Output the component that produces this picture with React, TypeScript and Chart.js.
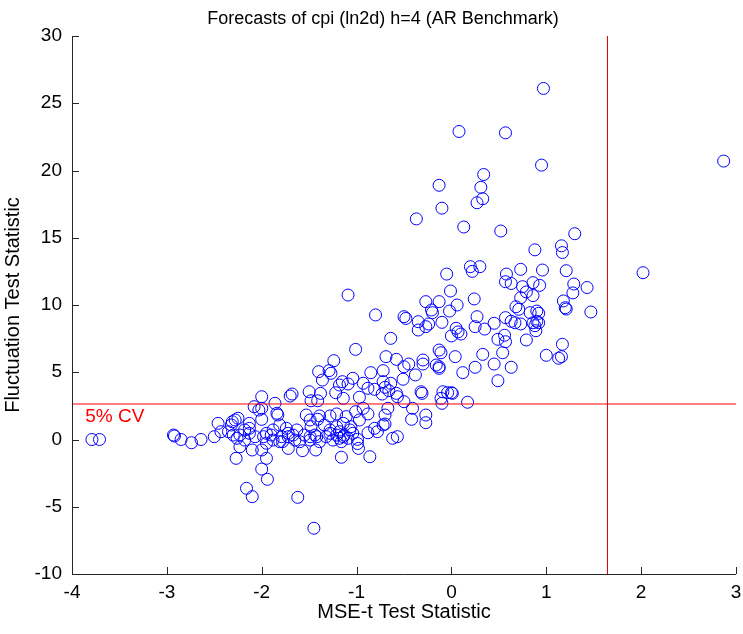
import React, { useEffect, useRef } from 'react';
import { Chart, registerables } from 'chart.js';

Chart.register(...registerables);

// ---- data ----
const mseT = [
  0.97, 0.08, 0.57, 0.95, 0.34, -0.13, 0.31, 0.33, 0.27, -0.10, -0.37, 0.13, 0.52, 1.30, 0.88, 1.16, 1.17,
  2.87, 2.02, 1.21, 1.29, 1.43, 1.28, 1.18, 1.20, 1.21, 1.47, 1.17, 1.16,
  0.20, 0.30, 0.22, 0.73, 0.96, 0.58, 0.57, 0.63, -0.05, 0.75, 0.86, 0.93, 0.79, 0.86, 0.73, -0.01, 0.24,
  0.06, -0.02, 0.68, 0.71, 0.83, 0.90, 0.92, 0.27, 0.57, 0.45, 0.63, 0.67, 0.73, 0.86, 0.90, 0.92, 0.88,
  0.89, 0.25, 0.35, 0.05, 0.10, 0.00, 0.56, 0.49, 0.57, 0.79, 0.54, 1.00, 1.13, 0.33, 0.04, 0.45, 0.63,
  0.25, 0.12, 0.49, 0.00, 0.01, 0.17,
  -0.27, -0.13, -0.21, -0.20, -0.80, -0.50, -0.48, -0.35, -0.24, -0.10, -0.35, -0.27, 0.07, -0.64, -1.01,
  -0.13, -0.11, -0.69, -0.58, -0.45, -0.50, -0.38, -0.30, -0.30, -0.16, -0.13, -0.13, -0.85, -0.72, -0.51,
  -1.04, -0.93, -0.88, -0.81, -0.72, -0.70, -0.64, -0.73, -0.66, -0.58, -0.57, -0.97, -0.32, -0.31, -0.09,
  -0.04, -0.11, -0.10, -0.50, -0.41, -0.42, -0.27, -0.27, -0.67, -0.70, -0.72, -0.93, -0.88, -1.01, -0.97,
  -0.81, -0.88, -0.62, -0.57, -1.06, -1.04, -0.99, -0.99, -0.70, -0.78, -1.14, -1.16, -0.98, -0.86,
  -1.24, -1.40, -1.29, -1.27, -1.36, -1.15, -1.09, -1.18, -1.50, -1.38, -1.22, -1.14, -1.68, -1.70, -1.48,
  -1.41, -2.00, -1.86, -2.08, -2.03, -2.00, -1.84, -1.83, -1.53, -1.49, -1.39, -1.41, -1.28, -1.21, -1.11,
  -2.25, -2.28, -2.00, -2.18, -2.13, -1.88, -1.81, -1.74, -1.72, -1.63, -1.48, -1.34, -1.28, -1.21, -1.14,
  -1.18, -1.07, -1.95, -1.98, -1.55, -1.49, -1.42, -1.79, -1.90, -1.67, -2.32,
  -2.26, -2.30, -2.23, -2.13, -2.07, -2.18, -2.23, -2.27, -2.10, -2.00, -1.95, -2.00, -1.94, -2.16, -2.10,
  -1.62, -1.45, -1.95, -1.88, -1.81, -1.72, -1.78, -1.72, -1.65, -1.57, -1.60, -1.49, -1.44, -1.39, -1.43,
  -1.32, -1.28, -1.25, -1.21, -1.18, -1.13, -1.16, -1.09,
  -3.79, -3.71, -2.93, -2.92, -2.85, -2.74, -2.64, -2.50, -2.46, -2.43, -2.35, -2.31, -2.13,
  -1.09,
];

const fluct = [
  26.1, 22.9, 22.8, 20.4, 19.7, 18.9, 18.75, 17.9, 17.6, 17.2, 16.4, 15.8, 15.5, 15.3, 14.1, 14.4, 13.9,
  20.7, 12.4, 12.55, 11.56, 11.3, 10.9, 10.3, 9.8, 9.7, 9.48, 7.08, 6.16,
  12.85, 12.85, 12.5, 12.65, 12.6, 12.3, 11.73, 11.6, 12.3, 11.36, 11.66, 11.46, 10.97, 10.7, 10.54, 11.04, 10.45,
  10.0, 9.55, 9.87, 9.68, 9.43, 9.55, 9.38, 9.13, 9.06, 8.64, 8.79, 8.68, 8.59, 8.68, 8.79, 8.68, 8.46,
  8.09, 8.39, 8.21, 8.27, 7.84, 7.7, 7.75, 7.45, 7.27, 7.4, 6.45, 6.26, 6.04, 6.33, 6.16, 5.61, 5.37,
  5.37, 4.97, 4.37, 3.48, 3.43, 2.77,
  10.25, 10.25, 9.63, 9.43, 9.26, 9.13, 9.0, 8.76, 8.59, 8.71, 8.14, 8.39, 8.0, 7.52, 6.7,
  6.65, 6.45, 6.16, 5.96, 5.61, 5.41, 4.8, 5.91, 5.61, 5.54, 5.41, 5.29, 4.97, 5.12, 4.48,
  4.55, 4.18, 3.81, 3.73, 4.3, 3.88, 4.18, 3.38, 3.63, 3.43, 3.18, 3.14, 3.55, 3.43, 3.55,
  3.48, 3.06, 2.69, 2.81, 2.32, 1.5, 1.82, 1.25, 2.32, 1.82, 1.08, 2.32, 1.9, 2.07, 1.45,
  0.83, 0.5, 0.09, 0.21, 0.95, 0.46, 0.01, -0.3, 1.15, 0.58, 0.21, -0.16, -0.66, -1.28,
  5.86, 5.04, 5.12, 4.92, 4.42, 4.3, 4.13, 4.05, 3.55, 3.43, 3.48, 3.06, 3.38, 3.23, 2.88,
  2.88, 3.18, 2.69, 2.44, 2.19, 2.32, 1.95, 1.82, 1.82, 1.45, 1.75, 1.5, 1.75, 1.9, 1.7,
  1.58, 1.45, 1.5, 0.71, 0.83, 0.71, 1.08, 0.83, 0.46, 0.71, 0.95, 1.08, 0.71, 0.95, 1.2,
  0.58, 0.71, 0.46, 0.21, 0.33, 0.21, 0.21, 0.21, 0.33, 0.33, 1.08,
  0.09, 0.33, 0.33, 0.46, 0.21, -0.04, -0.54, -1.4, -0.78, -0.78, -1.4, -2.2, -2.96, -3.63, -4.25,
  -4.3, -6.6, -0.28, -0.04, -0.16, -0.66, -0.16, 0.21, -0.04, -0.83, -0.16, -0.04, 0.33, -0.16, -0.78,
  0.21, 0.46, -0.04, 0.33, 0.09, 0.33, -1.32, 0.09,
  0.0, 0.0, 0.33, 0.26, 0.0, -0.24, 0.0, 0.21, 1.2, 0.58, 0.58, 1.32, 1.2,
  10.74,
];

const xTickValues = [-4, -3, -2, -1, 0, 1, 2, 3];
const yTickValues = [-10, -5, 0, 5, 10, 15, 20, 25, 30];
const titleText = 'Forecasts of cpi (ln2d) h=4 (AR Benchmark)';
const xLabel = 'MSE-t Test Statistic';
const yLabel = 'Fluctuation Test Statistic';
const cvLabel = '5% CV';
const cvFluct = 2.64;
const cvMseT = 1.645;

const FONT = "'Liberation Sans', Arial, Helvetica, sans-serif";

const decorPlugin = {
  id: 'decor',
  afterDraw(chart: any) {
    const { ctx, chartArea } = chart;
    const xs = chart.scales.x;
    const ys = chart.scales.y;
    ctx.save();
    // axis lines
    ctx.strokeStyle = '#262626';
    ctx.lineWidth = 1;
    ctx.beginPath();
    ctx.moveTo(chartArea.left + 0.5, chartArea.top);
    ctx.lineTo(chartArea.left + 0.5, chartArea.bottom + 0.5);
    ctx.lineTo(chartArea.right, chartArea.bottom + 0.5);
    ctx.stroke();
    // inward ticks
    ctx.beginPath();
    xTickValues.forEach((v) => {
      const px = Math.round(xs.getPixelForValue(v)) + 0.5;
      ctx.moveTo(px, chartArea.bottom);
      ctx.lineTo(px, chartArea.bottom - 7);
    });
    yTickValues.forEach((v) => {
      const py = Math.round(ys.getPixelForValue(v)) + 0.5;
      ctx.moveTo(chartArea.left, py);
      ctx.lineTo(chartArea.left + 7, py);
    });
    ctx.stroke();
    // title
    ctx.fillStyle = '#000';
    ctx.font = `18px ${FONT}`;
    ctx.textAlign = 'center';
    ctx.textBaseline = 'middle';
    ctx.fillText(titleText, 383, 19);
    // CV label
    ctx.fillStyle = '#ff0000';
    ctx.font = `19px ${FONT}`;
    ctx.textAlign = 'left';
    ctx.textBaseline = 'alphabetic';
    ctx.fillText(cvLabel, xs.getPixelForValue(-3.86), ys.getPixelForValue(cvFluct) + 18);
    ctx.restore();
  },
};

export default function App() {
  const ref = useRef<HTMLCanvasElement>(null);
  useEffect(() => {
    if (!ref.current) return;
    const points = mseT.map((x, i) => ({ x, y: fluct[i] }));
    const chart = new Chart(ref.current, {
      type: 'scatter',
      data: {
        datasets: [
          {
            data: [{ x: -4, y: cvFluct }, { x: 3, y: cvFluct }],
            showLine: true,
            borderColor: '#ff0000',
            borderWidth: 1,
            pointRadius: 0,
            fill: false,
          } as any,
          {
            data: [{ x: cvMseT, y: -10 }, { x: cvMseT, y: 30 }],
            showLine: true,
            borderColor: '#d00000',
            borderWidth: 1,
            pointRadius: 0,
            fill: false,
          } as any,
          {
            data: points,
            pointStyle: 'circle',
            pointRadius: 6,
            pointHoverRadius: 6,
            borderColor: '#0000ff',
            backgroundColor: 'rgba(0,0,0,0)',
            borderWidth: 1,
          },
        ],
      },
      options: {
        responsive: false,
        animation: false,
        devicePixelRatio: 1,
        events: [],
        layout: { padding: { left: 0, right: 6, top: 36, bottom: 0 } },
        plugins: { legend: { display: false }, title: { display: false }, tooltip: { enabled: false } },
        scales: {
          x: {
            type: 'linear',
            min: -4,
            max: 3,
            grid: { display: false, drawTicks: false },
            border: { display: false },
            afterBuildTicks: (s: any) => { s.ticks = xTickValues.map((v) => ({ value: v })); },
            afterFit: (s: any) => { s.height = 60; s.paddingLeft = 0; s.paddingRight = 0; },
            ticks: { padding: 7, color: '#000', font: { family: FONT, size: 19 }, maxRotation: 0, autoSkip: false },
            title: { display: true, text: xLabel, color: '#000', font: { family: FONT, size: 20 }, padding: { top: 0, bottom: 10 } },
          },
          y: {
            type: 'linear',
            min: -10,
            max: 30,
            grid: { display: false, drawTicks: false },
            border: { display: false },
            afterBuildTicks: (s: any) => { s.ticks = yTickValues.map((v) => ({ value: v })); },
            afterFit: (s: any) => { s.width = 72; s.paddingTop = 0; s.paddingBottom = 0; },
            ticks: { padding: 10, color: '#000', font: { family: FONT, size: 19 }, autoSkip: false },
            title: { display: true, text: yLabel, color: '#000', font: { family: FONT, size: 20 }, padding: { top: 1, bottom: 0 } },
          },
        },
      },
      plugins: [decorPlugin],
    });
    return () => chart.destroy();
  }, []);
  return (
    <div style={{ position: 'absolute', left: 0, top: 0, width: 743, height: 634, background: '#fff' }}>
      <canvas ref={ref} width={743} height={634} style={{ display: 'block', width: 743, height: 634 }} />
    </div>
  );
}
